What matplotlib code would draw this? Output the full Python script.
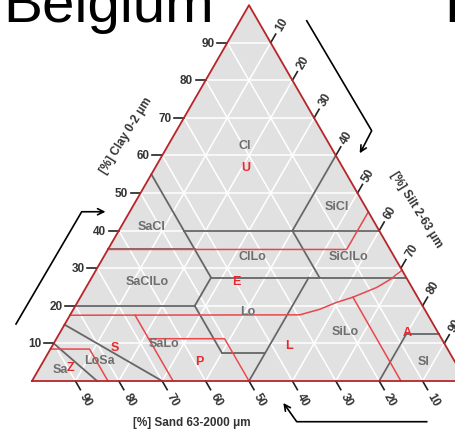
import numpy as np
import matplotlib.pyplot as plt

plt.rcParams['font.family'] = ['Liberation Sans', 'DejaVu Sans']

# ternary values as (clay %, silt %); sand = 100 - clay - silt
grid_vals = [10, 20, 30, 40, 50, 60, 70, 80, 90]
tick_vals = [10, 20, 30, 40, 50, 60, 70, 80, 90]

# grey class boundaries (texture classes)
grey_lines = [
    [(55, 0), (27.5, 27.5)],
    [(40, 15), (40, 60)],
    [(40, 40), (60, 40)],
    [(40, 40), (27.5, 52.5)],
    [(27.5, 27.5), (27.5, 72.5)],
    [(35, 0), (35, 20)],
    [(20, 0), (20, 27.5)],
    [(27.5, 27.5), (20, 27.5)],
    [(20, 27.5), (7.5, 40)],
    [(7.5, 40), (7.5, 50)],
    [(0, 50), (27.5, 50)],
    [(0, 80), (12.5, 80)],
    [(12.5, 80), (12.5, 87.5)],
    [(10, 0), (0, 15)],
    [(15, 0), (0, 30)],
]

# red class boundaries (Belgian letters)
red_lines = [
    [(35, 0), (35, 55), (45, 55)],
    [(17.5, 0), (17.6, 52.9), (19.1, 56.8), (20.9, 59.7), (22.3, 62.8),
     (24.9, 67.0), (27.2, 69.2), (29.5, 70.5)],
    [(22.3, 62.8), (0, 85)],
    [(8.5, 0), (8.5, 9), (0, 17.5)],
    [(17.5, 15), (0, 32.5)],
    [(11.25, 21.25), (11.25, 38.75), (0, 50)],
]

grey_names = ['Cl', 'SaCl', 'SiCl', 'ClLo', 'SiClLo', 'SaClLo', 'Lo',
              'SiLo', 'Sl', 'SaLo', 'LoSa', 'Sa']
grey_pos = [(62.8, 17.7), (41.3, 6.9), (46.5, 47.0), (33.3, 34.2),
            (33.3, 56.2), (26.7, 13.2), (18.5, 40.4), (13.4, 65.4),
            (5.4, 87.5), (10.0, 25.3), (5.7, 12.7), (3.2, 4.9)]

red_names = ['U', 'E', 'L', 'A', 'P', 'S', 'Z']
red_pos = [(57.0, 20.8), (26.5, 33.9), (9.6, 54.5), (13.1, 79.8),
           (5.4, 35.8), (9.0, 14.6), (3.8, 6.9)]

H = np.sqrt(3) / 2


def tern(clay, silt):
    clay = np.asarray(clay, dtype=float)
    silt = np.asarray(silt, dtype=float)
    return silt + clay / 2, clay * H


fig = plt.figure(figsize=(4.55, 4.31), dpi=100)
ax = fig.add_axes([0, 0, 1, 1])
ax.set_xlim(-7.373, 97.465)
ax.set_ylim(-11.29, 88.02)
ax.axis('off')

# background triangle
tx, ty = tern([0, 0, 100, 0], [0, 100, 0, 0])
ax.fill(tx, ty, color='#e1e1e1', zorder=0)

# white grid
for v in grid_vals:
    x, y = tern([v, v], [0, 100 - v])
    ax.plot(x, y, color='white', lw=1.1, zorder=1)
    x, y = tern([0, 100 - v], [v, v])
    ax.plot(x, y, color='white', lw=1.1, zorder=1)
    x, y = tern([0, 100 - v], [100 - v, 0])
    ax.plot(x, y, color='white', lw=1.1, zorder=1)

for ln in grey_lines:
    c, s = zip(*ln)
    x, y = tern(c, s)
    ax.plot(x, y, color='#666666', lw=1.3, zorder=2)

for ln in red_lines:
    c, s = zip(*ln)
    x, y = tern(c, s)
    ax.plot(x, y, color='#e8474c', lw=1.1, zorder=3)

ax.plot(tx, ty, color='#b8262b', lw=1.3, zorder=4)

# ticks
tl = 2.3
for v in tick_vals:
    # clay, left edge
    x, y = tern(v, 0)
    ax.plot([x - tl, x], [y, y], color='#222222', lw=1.2)
    ax.text(x - 2.9, y, str(v), ha='right', va='center', fontsize=8.5,
            fontweight='bold', color='#333333')
    # sand, bottom edge
    x, y = tern(0, 100 - v)
    ax.plot([x, x + tl * 0.5], [y, y - tl * H], color='#222222', lw=1.2)
    ax.text(x + 4.8 * 0.5, y - 4.8 * H, str(v), ha='center', va='center',
            rotation=-60, fontsize=8.5, fontweight='bold', color='#333333')
    # silt, right edge
    x, y = tern(100 - v, v)
    ax.plot([x, x + tl * 0.5], [y, y + tl * H], color='#222222', lw=1.2)
    ax.text(x + 5.0 * 0.5, y + 5.0 * H, str(v), ha='center', va='center',
            rotation=60, fontsize=8.5, fontweight='bold', color='#333333')

for name, (c, s) in zip(grey_names, grey_pos):
    x, y = tern(c, s)
    ax.text(x, y, name, ha='center', va='center', fontsize=9,
            fontweight='bold', color='#6e6e6e', zorder=5)

for name, (c, s) in zip(red_names, red_pos):
    x, y = tern(c, s)
    ax.text(x, y, name, ha='center', va='center', fontsize=9,
            fontweight='bold', color='#e8282d', zorder=6)

# axis titles
ax.text(21.8, 56.7, '[%] Clay 0-2 \u03bcm', rotation=58, ha='center',
        va='center', fontsize=8.5, fontweight='bold', color='#333333')
ax.text(88.5, 39.6, '[%] Silt 2-63 \u03bcm', rotation=-58, ha='center',
        va='center', fontsize=8.5, fontweight='bold', color='#333333')
ax.text(36.8, -9.5, '[%] Sand 63-2000 \u03bcm', ha='center', va='center',
        fontsize=8.5, fontweight='bold', color='#333333')

# arrows
arw = dict(arrowstyle='->', color='black', lw=1.2, mutation_scale=11)
ax.plot([-3.69, 11.45, 16.0], [13.13, 39.0, 39.0], color='black', lw=1.2)
ax.annotate('', xy=(17.58, 39.0), xytext=(15.0, 39.0), arrowprops=arw)
ax.plot([63.3, 78.27, 76.0], [83.0, 57.67, 53.3], color='black', lw=1.2)
ax.annotate('', xy=(75.18, 51.91), xytext=(76.5, 54.2), arrowprops=arw)
ax.plot([90.94, 60.99, 58.6], [-9.38, -9.38, -6.0], color='black', lw=1.2)
ax.annotate('', xy=(57.53, -4.54), xytext=(59.0, -6.6), arrowprops=arw)

ax.text(-6.6, 82.95, 'Belgium', ha='left', va='baseline', fontsize=42)
ax.text(95.0, 82.95, 'F', ha='left', va='baseline', fontsize=42)

fig.savefig('out.png', dpi=100)
